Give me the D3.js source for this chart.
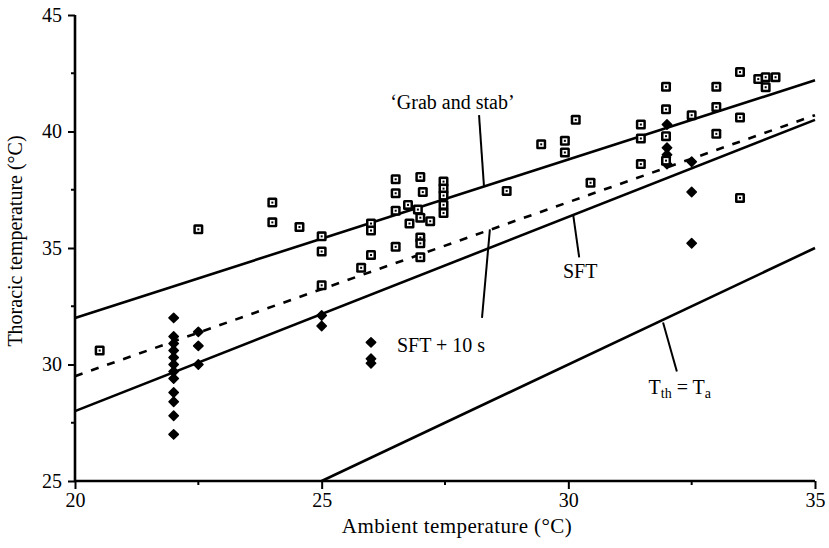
<!DOCTYPE html>
<html>
<head>
<meta charset="utf-8">
<script src="https://cdn.jsdelivr.net/npm/d3@7"></script>
<style>
  body { margin: 0; background: #fff; }
  text { font-family: "Liberation Serif", "Times New Roman", serif; fill: #000; }
</style>
</head>
<body>
<div id="chart"></div>
<script>
// open squares (x = ambient, y = thoracic)
var squaresX = [20.5, 22.5, 24, 24, 24.55, 25, 25, 25, 25.8, 26, 26, 26, 26.5, 26.5, 26.5, 26.5,
  26.75, 26.95, 27, 27.05, 27, 26.78, 27.2, 27, 27, 27, 27.47, 27.47, 27.47, 27.47, 27.47,
  28.75, 29.45, 29.93, 29.93, 30.15, 30.45, 31.47, 31.47, 31.47, 31.98, 31.98, 31.98, 31.98,
  32.5, 33, 33, 33, 33.48, 33.48, 33.48, 33.85, 34, 34, 34.2];
var squaresY = [30.6, 35.8, 36.95, 36.1, 35.9, 35.5, 34.85, 33.4, 34.15, 34.7, 36.05, 35.75, 37.95, 37.35, 36.6, 35.05,
  36.85, 36.65, 38.05, 37.4, 36.3, 36.05, 36.15, 35.45, 35.2, 34.6, 37.85, 37.55, 37.25, 36.85, 36.5,
  37.45, 39.45, 39.6, 39.1, 40.5, 37.8, 40.3, 39.7, 38.6, 41.92, 40.95, 39.8, 38.75,
  40.7, 41.92, 41.05, 39.9, 42.55, 40.6, 37.15, 42.25, 42.33, 41.9, 42.33];

// filled diamonds
var filledX = [22, 22, 22, 22, 22, 22, 22, 22, 22, 22, 22, 22,
  22.5, 22.5, 22.5, 25, 25, 26, 26, 26, 32, 32, 32, 32, 32.5, 32.5, 32.5];
var filledY = [32.0, 31.2, 30.9, 30.6, 30.3, 30.0, 29.7, 29.4, 28.8, 28.4, 27.8, 27.0,
  31.4, 30.8, 30.0, 32.1, 31.65, 30.95, 30.25, 30.05, 40.3, 39.3, 39.0, 38.6, 38.7, 37.4, 35.2];

// regression lines: [x0, y0, x1, y1]
var grabLine = [20, 32.0, 35, 42.2];
var sftLine = [20, 28.0, 35, 40.5];
var sft10Line = [20, 29.5, 35, 40.7];
var equalLine = [25, 25, 35, 35];

var xTicks = [20, 25, 30, 35];
var xMinor = [22.5, 27.5, 32.5];
var yTicks = [25, 30, 35, 40, 45];
var yMinor = [27.5, 32.5, 37.5, 42.5];

var W = 829, H = 548;
var margin = {top: 15, right: 14, bottom: 67, left: 75};

var svg = d3.select("#chart").append("svg")
  .attr("width", W)
  .attr("height", H);

var x = d3.scaleLinear().domain([20, 35]).range([margin.left, W - margin.right]);
var y = d3.scaleLinear().domain([25, 45]).range([H - margin.bottom, margin.top]);

// lines
function drawLine(l, dash) {
  svg.append("line")
    .attr("x1", x(l[0])).attr("y1", y(l[1]))
    .attr("x2", x(l[2])).attr("y2", y(l[3]))
    .attr("stroke", "#000")
    .attr("stroke-width", 2.6)
    .attr("stroke-dasharray", dash || null);
}
drawLine(grabLine);
drawLine(sftLine);
drawLine(sft10Line, "8,9");
drawLine(equalLine);

// leader lines for labels
var leaders = [
  [28.29, 37.65, 28.19, 40.7],
  [28.41, 35.8, 28.25, 32.0],
  [30.1, 36.4, 30.22, 34.6],
  [31.92, 31.8, 32.2, 29.7]
];
svg.selectAll(".leader")
  .data(leaders)
  .enter().append("line")
    .attr("class", "leader")
    .attr("x1", function(d) { return x(d[0]); })
    .attr("y1", function(d) { return y(d[1]); })
    .attr("x2", function(d) { return x(d[2]); })
    .attr("y2", function(d) { return y(d[3]); })
    .attr("stroke", "#000")
    .attr("stroke-width", 2);

// filled points
var filled = filledX.map(function(v, i) { return {x: v, y: filledY[i]}; });
svg.selectAll(".dot")
  .data(filled)
  .enter().append("path")
    .attr("class", "dot")
    .attr("d", d3.symbol().type(d3.symbolDiamond2).size(56))
    .attr("transform", function(d) { return "translate(" + x(d.x) + "," + y(d.y) + ")"; })
    .attr("fill", "#000")
    .attr("stroke", "#000")
    .attr("stroke-width", 1.5)
    .attr("stroke-linejoin", "round");

// open squares
var squares = squaresX.map(function(v, i) { return {x: v, y: squaresY[i]}; });
var sq = svg.selectAll(".sq")
  .data(squares)
  .enter().append("g")
    .attr("class", "sq")
    .attr("transform", function(d) { return "translate(" + x(d.x) + "," + y(d.y) + ")"; });
sq.append("rect").attr("x", -5).attr("y", -5).attr("width", 10).attr("height", 10).attr("rx", 1.5).attr("fill", "#000");
sq.append("rect").attr("x", -2.5).attr("y", -2.5).attr("width", 5).attr("height", 5).attr("fill", "#fff");
sq.append("rect").attr("x", -1).attr("y", -1).attr("width", 2).attr("height", 2).attr("fill", "#000");

// axes
var xAxis = svg.append("g")
  .attr("transform", "translate(0," + y(25) + ")")
  .call(d3.axisBottom(x).tickValues(xTicks).tickSize(8).tickPadding(4).tickFormat(d3.format("d")));
xAxis.append("g").selectAll("line")
  .data(xMinor)
  .enter().append("line")
    .attr("x1", x).attr("x2", x)
    .attr("y1", 0).attr("y2", 4)
    .attr("stroke", "#000").attr("stroke-width", 2);

var yAxis = svg.append("g")
  .attr("transform", "translate(" + x(20) + ",0)")
  .call(d3.axisLeft(y).tickValues(yTicks).tickSize(7).tickPadding(6).tickFormat(d3.format("d")));
yAxis.append("g").selectAll("line")
  .data(yMinor)
  .enter().append("line")
    .attr("y1", y).attr("y2", y)
    .attr("x1", 0).attr("x2", -4)
    .attr("stroke", "#000").attr("stroke-width", 2);

[xAxis, yAxis].forEach(function(a) {
  a.select(".domain").attr("stroke", "#000").attr("stroke-width", 2.6);
  a.selectAll(".tick line").attr("stroke", "#000").attr("stroke-width", 2);
  a.selectAll(".tick text").attr("font-size", 20).attr("font-family", "Liberation Serif").attr("fill", "#000");
});
xAxis.select(".domain").attr("d", "M" + x(20) + ",0H" + x(35));
yAxis.select(".domain").attr("d", "M0," + y(25) + "V" + y(45));

// axis titles
svg.append("text")
  .attr("x", 457)
  .attr("y", 533)
  .attr("text-anchor", "middle")
  .attr("font-size", 21)
  .attr("letter-spacing", 0.4)
  .text("Ambient temperature (°C)");

svg.append("text")
  .attr("transform", "translate(22,241) rotate(-90)")
  .attr("text-anchor", "middle")
  .attr("font-size", 20)
  .text("Thoracic temperature (°C)");

// line labels
svg.append("text")
  .attr("x", x(27.65)).attr("y", y(40.95))
  .attr("text-anchor", "middle").attr("font-size", 20)
  .text("\u2018Grab and stab\u2019");

svg.append("text")
  .attr("x", x(27.42)).attr("y", y(30.55))
  .attr("text-anchor", "middle").attr("font-size", 20)
  .text("SFT + 10 s");

svg.append("text")
  .attr("x", x(30.24)).attr("y", y(33.7))
  .attr("text-anchor", "middle").attr("font-size", 20)
  .text("SFT");

var tlab = svg.append("text")
  .attr("x", x(32.26)).attr("y", y(28.75))
  .attr("text-anchor", "middle").attr("font-size", 20);
tlab.append("tspan").text("T");
tlab.append("tspan").attr("font-size", 14).attr("dy", 4).text("th");
tlab.append("tspan").attr("dy", -4).text(" = T");
tlab.append("tspan").attr("font-size", 14).attr("dy", 4).text("a");
</script>
</body>
</html>
